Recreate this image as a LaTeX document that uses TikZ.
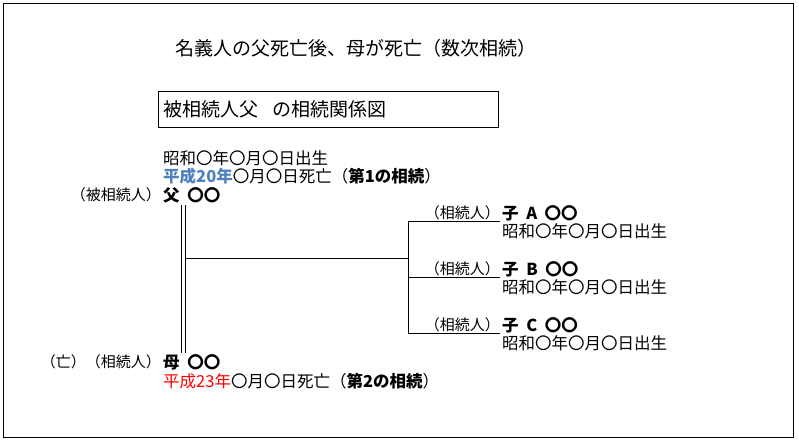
\documentclass[tikz,border=0pt]{standalone}
\usepackage{fontspec}
\setmainfont{Noto Sans CJK JP}
\definecolor{hblue}{RGB}{79,129,189}
\begin{document}
\begin{tikzpicture}[x=1pt,y=-1pt,
  t/.style={inner sep=0pt,font=\fontsize{16.5}{16.5}\selectfont,anchor=west},
  tr/.style={inner sep=0pt,font=\fontsize{15}{15}\selectfont,anchor=east},
  ln/.style={line width=0.8pt}]
\useasboundingbox (0,0) rectangle (799,444);
\draw[line width=0.6pt] (3,3) rectangle (793,437);
\node[inner sep=0pt,font=\fontsize{19}{19}\selectfont] (title) at (356,48) {名義人の父死亡後、母が死亡（数次相続）};
\node[draw,line width=0.7pt,minimum width=340pt,minimum height=36pt,anchor=north west,inner sep=0pt] (box) at (158,91) {};
\node[t,font=\fontsize{19}{19}\selectfont] (boxt) at (163,109) {被相続人父\hspace{14pt}の相続関係図};
\node[t] (fb) at (163,158) {昭和〇年〇月〇日出生};
\node[t] (fd) at (163,176) {{\color{hblue}\bfseries 平成20年}〇月〇日死亡（\textbf{第1の相続}）};
\node[t] (f) at (163,195) {\textbf{父\ \ 〇〇}};
\node[tr] (fl) at (161,195) {（被相続人）};
\node[t] (m) at (163,362) {\textbf{母\ \ 〇〇}};
\node[tr] (ml) at (161,362) {（亡）（相続人）};
\node[t] (md) at (163,381) {{\color{red}平成23年}〇月〇日死亡（\textbf{第2の相続}）};
\foreach \n/\y/\l in {a/213/A,b/269/B,c/325/C}{
  \node[t] (c\n) at (502,\y) {\textbf{子\ \ \l\ \ 〇〇}};
  \node[tr] (cl\n) at (500,\y) {（相続人）};
  \node[t] (cb\n) at (502,\y+18) {昭和〇年〇月〇日出生};
  \coordinate (e\n) at (500,\y+8);
  \coordinate (s\n) at (408,\y+8);
}
\coordinate (d1) at (181,205); \coordinate (d2) at (181,353);
\draw[ln] (d1) -- (d2);
\draw[ln] ([xshift=4pt]d1) -- ([xshift=4pt]d2);
\coordinate (h) at (185,258);
\draw[ln] (h) -- (409,258);
\draw[ln] (sa) -- (sc);
\draw[ln] (sa) -- (ea); \draw[ln] (sb) -- (eb); \draw[ln] (sc) -- (ec);
\end{tikzpicture}
\end{document}
